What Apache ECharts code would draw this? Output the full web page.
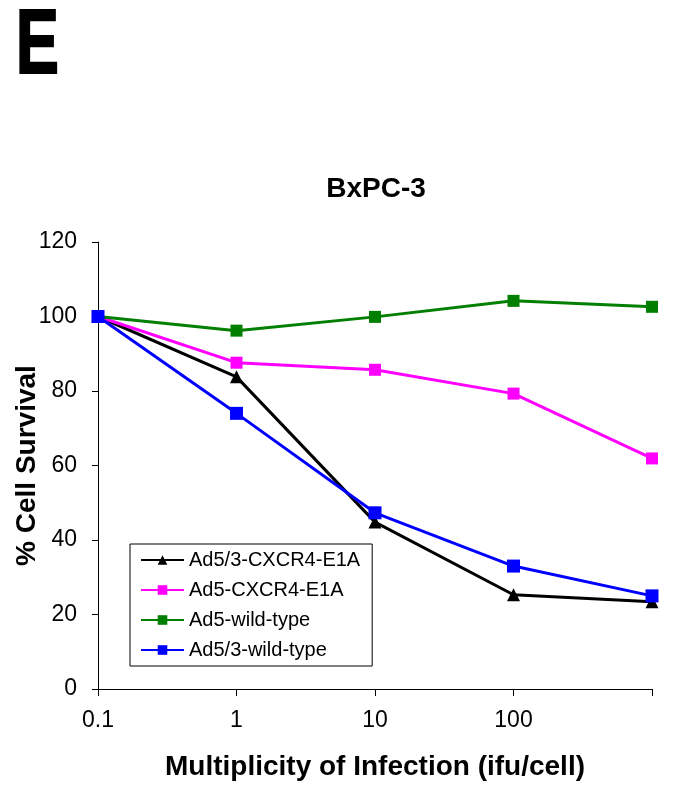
<!DOCTYPE html>
<html><head><meta charset="utf-8">
<script src="https://cdn.jsdelivr.net/npm/echarts@6/dist/echarts.min.js"></script>
<style>html,body{margin:0;padding:0;background:#fff}#c{width:684px;height:795px}</style>
</head><body><div id="c"></div>
<script>
var categories = ['0.1', '1', '10', '100', ''];
var yTicks = [0, 20, 40, 60, 80, 100, 120];
var seriesNames = ['Ad5/3-CXCR4-E1A', 'Ad5-CXCR4-E1A', 'Ad5-wild-type', 'Ad5/3-wild-type'];
var ad53Cxcr4 = [100, 83.8, 44.8, 25.3, 23.4];
var ad5Cxcr4 = [100, 87.6, 85.7, 79.3, 61.9];
var ad5Wild = [100, 96.2, 99.9, 104.2, 102.6];
var ad53Wild = [100, 74.0, 47.3, 33.0, 25.0];

var F = 'Arial, "Liberation Sans", sans-serif';
var chart = echarts.init(document.getElementById('c'));
function mk(name, data, color, symbol, size) {
  return {
    name: name, type: 'line', data: data,
    symbol: symbol, symbolSize: size, showSymbol: true,
    lineStyle: {color: color, width: 3},
    itemStyle: {color: color, borderWidth: 0},
    animation: false, z: 3
  };
}
chart.setOption({
  animation: false,
  graphic: [{
    type: 'text', left: 15, top: 2, scaleX: 0.72,
    style: {text: 'E', font: 'bold 90px ' + F, fill: '#000', stroke: '#000', lineWidth: 2}
  }],
  title: [
    {text: 'BxPC-3', left: 371, textAlign: 'center', top: 170, textStyle: {fontFamily: F, fontSize: 28, fontWeight: 'bold', color: '#000'}}
  ],
  grid: {left: 98, right: 32, top: 242, bottom: 106, containLabel: false, outerBoundsMode: 'none'},
  legend: {
    orient: 'vertical', left: 130, top: 544,
    data: seriesNames,
    itemWidth: 43, itemHeight: 12, itemGap: 10,
    borderColor: '#000', borderWidth: 1, borderRadius: 0,
    padding: [6, 12, 6, 10],
    textStyle: {fontFamily: F, fontSize: 20, color: '#000'},
    backgroundColor: '#fff'
  },
  xAxis: {
    type: 'category', data: categories, boundaryGap: false,
    name: 'Multiplicity of Infection (ifu/cell)', nameLocation: 'middle', nameGap: 64,
    nameMoveOverlap: false,
    nameTextStyle: {fontFamily: F, fontSize: 28, fontWeight: 'bold', color: '#000'},
    axisLine: {lineStyle: {color: '#000', width: 1}},
    axisTick: {alignWithLabel: true, length: 7, lineStyle: {color: '#000'}},
    axisLabel: {fontFamily: F, fontSize: 23, color: '#000', margin: 20},
    splitLine: {show: false}
  },
  yAxis: {
    type: 'value', min: yTicks[0], max: yTicks[yTicks.length - 1], interval: 20,
    name: '% Cell Survival', nameLocation: 'middle', nameGap: 57, nameRotate: 90,
    nameMoveOverlap: false,
    nameTextStyle: {fontFamily: F, fontSize: 28, fontWeight: 'bold', color: '#000'},
    axisLine: {show: true, lineStyle: {color: '#000', width: 1}},
    axisTick: {show: true, length: 6, lineStyle: {color: '#000'}},
    axisLabel: {fontFamily: F, fontSize: 23, color: '#000', margin: 21},
    splitLine: {show: false}
  },
  series: [
    mk(seriesNames[0], ad53Cxcr4, '#000000', 'triangle', 13),
    mk(seriesNames[1], ad5Cxcr4, '#ff00ff', 'rect', 12),
    mk(seriesNames[2], ad5Wild, '#007f00', 'rect', 12),
    mk(seriesNames[3], ad53Wild, '#0000ff', 'rect', 13)
  ]
});
</script></body></html>
